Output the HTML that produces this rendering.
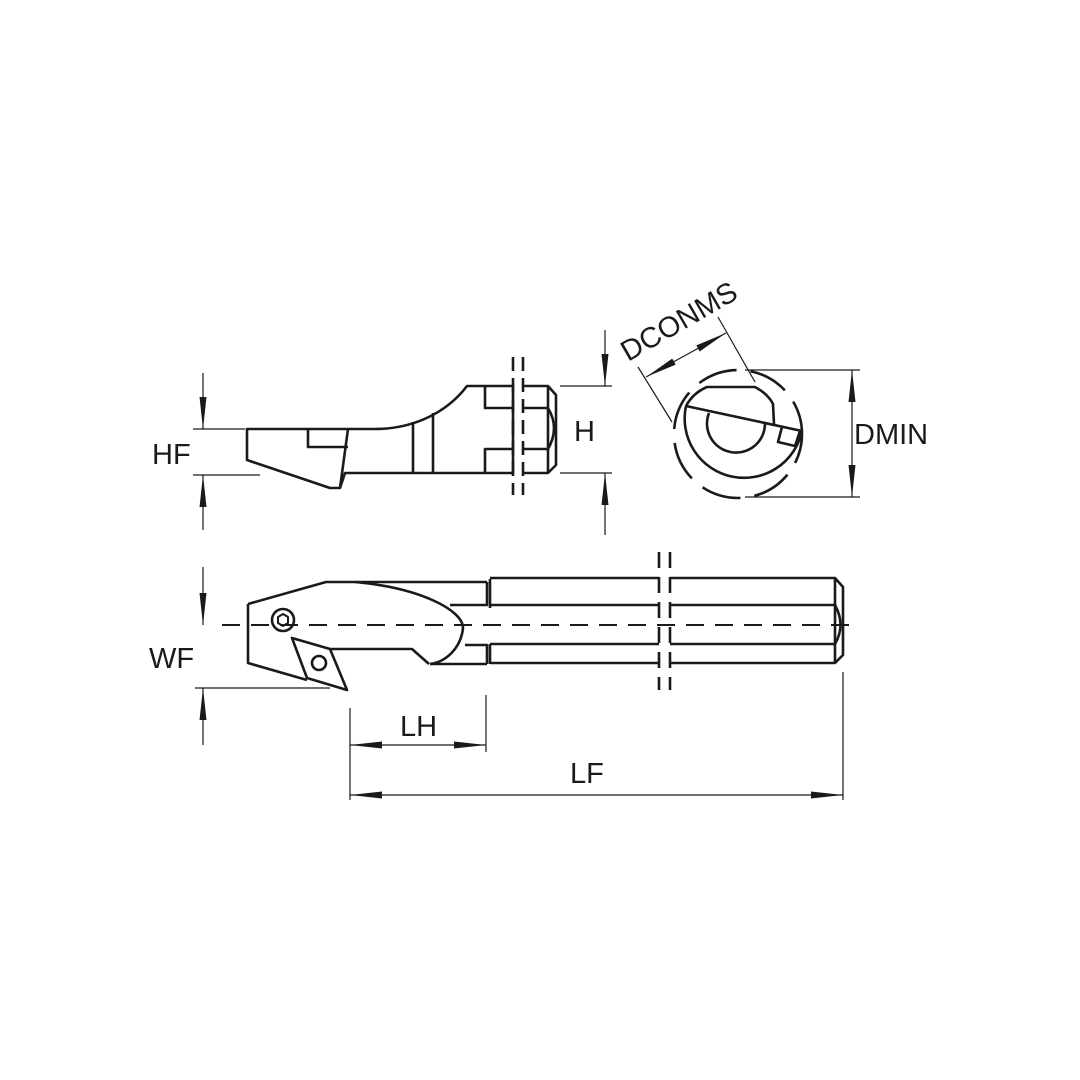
<!DOCTYPE html>
<html><head><style>html,body{margin:0;padding:0;background:#fff}svg{display:block}</style></head>
<body>
<svg width="1080" height="1080" viewBox="0 0 1080 1080" xmlns="http://www.w3.org/2000/svg">
<defs>
<marker id="a" viewBox="0 0 10 10" refX="10" refY="5" markerWidth="32" markerHeight="10" markerUnits="userSpaceOnUse" orient="auto-start-reverse" preserveAspectRatio="none"><path d="M0,1.5 L10,5 L0,8.5 z" fill="#1a1a1a"/></marker>
</defs>
<g fill="none" stroke="#1a1a1a" stroke-width="2.6" stroke-linejoin="round">
<!-- TOP VIEW -->
<path d="M247,429 H375 C410,429 445,415 467,386 H513 V473 H345 L340,488 H330 L247,460 Z"/>
<path d="M308,429 V447 H348"/>
<path d="M348,429 L340,488"/>
<path d="M413,422 V473 M433,413 V473"/>
<path d="M513,408 H485 V386 M513,449 H485 V473"/>
<path d="M523,386 H548 L556,395 V465 L548,473 H523"/>
<path d="M548,386 V473 M523,408 H548 M523,449 H548"/>
<path d="M548,408 Q560,428 548,449"/>
<path d="M513,357 V495 M523,357 V495" stroke-dasharray="14,7"/>
<!-- END VIEW -->
<circle cx="738" cy="434" r="64" stroke-dasharray="40,14" stroke-dashoffset="10"/>
<path d="M686,406 A56,56 0 1 0 802,431"/>
<path d="M686,406 Q693,393 707,387 H755 Q768,394 773,404 L774,424"/>
<path d="M686,406 L802,431"/>
<path d="M709,413 A29,29 0 1 0 765,423"/>
<path d="M782,427 L778,442 L795,446 L800,431"/>
<!-- BOTTOM VIEW -->
<path d="M248,604 L326,582 H487 M248,604 V663 L307,680"/>
<path d="M355,582 C420,588 463,610 463,628 C461,648 446,662 430,664"/>
<path d="M450,605 H487 V582 M490,579 V608 M465,645 H487 V664 M490,644 V664 M430,664 H487"/>
<path d="M292,638 L330,649 L347,690 L307,678 Z"/>
<path d="M330,649 H412 L429,664"/>
<circle cx="283" cy="620" r="11"/>
<path d="M283,614 L288,617 L288,623 L283,626 L278,623 L278,617 Z" stroke-width="2"/>
<circle cx="319" cy="663" r="7"/>
<path d="M490,578 H659 M490,605 H659 M490,644 H659 M490,663 H659"/>
<path d="M670,578 H835 L843,587 V655 L835,663 H670 M670,605 H835 M670,644 H835 M835,578 V663"/>
<path d="M835,605 Q846,625 835,644"/>
<path d="M659,552 V690 M670,552 V690" stroke-dasharray="16,9"/>
</g>
<!-- centerline -->
<path d="M222,625 H858" stroke="#1a1a1a" stroke-width="2" stroke-dasharray="18,11" fill="none"/>
<!-- dimensions -->
<g fill="none" stroke="#1a1a1a" stroke-width="1.2">
<path d="M193,429 H245 M193,475 H260"/>
<path d="M203,373 V429" marker-end="url(#a)"/>
<path d="M203,530 V475" marker-end="url(#a)"/>
<path d="M560,386 H612 M560,473 H612"/>
<path d="M605,330 V386" marker-end="url(#a)"/>
<path d="M605,535 V473" marker-end="url(#a)"/>
<path d="M745,370 H860 M745,497 H860"/>
<path d="M852,370 V497" marker-start="url(#a)" marker-end="url(#a)"/>
<path d="M638,367 L672,422 M718,317 L755,382"/>
<path d="M646,377 L726,333" marker-start="url(#a)" marker-end="url(#a)"/>
<path d="M195,688 H330"/>
<path d="M203,567 V625" marker-end="url(#a)"/>
<path d="M203,745 V688" marker-end="url(#a)"/>
<path d="M350,708 V800 M486,695 V752 M843,672 V800"/>
<path d="M350,745 H486" marker-start="url(#a)" marker-end="url(#a)"/>
<path d="M350,795 H843" marker-start="url(#a)" marker-end="url(#a)"/>
</g>
<g font-family="Liberation Sans, sans-serif" font-size="29" fill="#1a1a1a">
<text x="152" y="464">HF</text>
<text x="574" y="441">H</text>
<text x="854" y="444">DMIN</text>
<text x="149" y="668">WF</text>
<text x="400" y="736">LH</text>
<text x="570" y="783">LF</text>
<text x="0" y="0" transform="translate(628,362) rotate(-30)">DCONMS</text>
</g>
</svg>
</body></html>
